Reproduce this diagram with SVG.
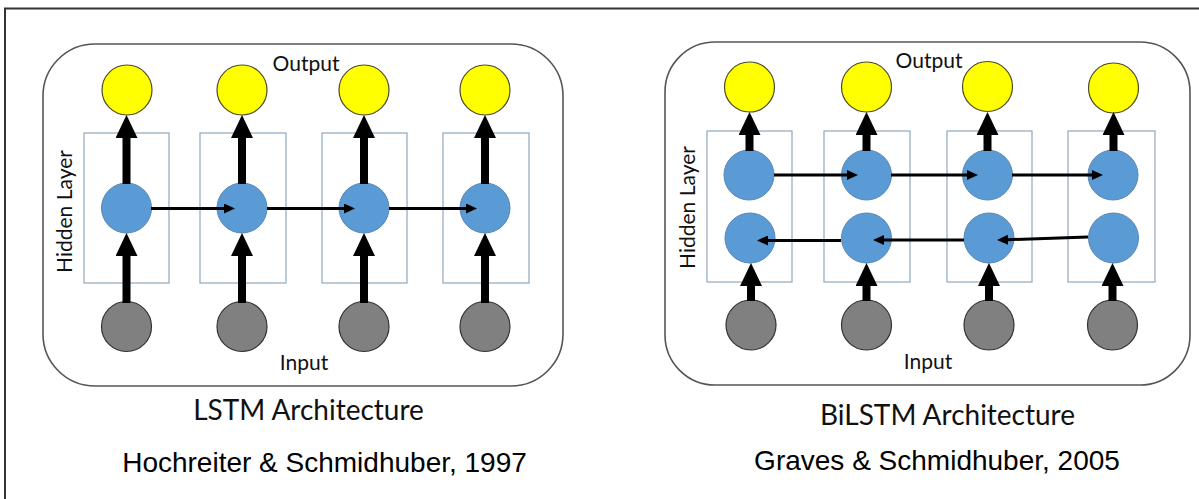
<svg xmlns="http://www.w3.org/2000/svg" width="1199" height="499" viewBox="0 0 1199 499">
  <style>
    .frame { fill: none; stroke: #333; stroke-width: 2; }
    .panel { fill: #fff; stroke: #555; stroke-width: 1.6; }
    .cell { fill: none; stroke: #8fa8bf; stroke-width: 1.2; }
    .out { fill: #ffff00; stroke: #4d4a2a; stroke-width: 1.2; }
    .hid { fill: #5b9bd5; stroke: #5a86b3; stroke-width: 1; }
    .inp { fill: #808080; stroke: #333; stroke-width: 1.2; }
    .thick { fill: none; stroke: #000; stroke-width: 8; marker-end: url(#bigHead); }
    .thin { fill: none; stroke: #000; stroke-width: 3; marker-end: url(#smallHead); }
    .lbl { font-family: Lato, "Open Sans", sans-serif; font-size: 21px; fill: #111; }
    .title { font-family: Lato, "Open Sans", sans-serif; font-size: 28px; fill: #111; }
    .cite { font-family: "Liberation Sans", Arial, sans-serif; font-size: 28px; fill: #000; }
  </style>
  <defs>
    <marker id="bigHead" markerUnits="userSpaceOnUse" viewBox="0 0 23 22" refX="0" refY="11" markerWidth="23" markerHeight="22" orient="auto">
      <path d="M0,0 L23,11 L0,22 Z" fill="#000"/>
    </marker>
    <marker id="smallHead" markerUnits="userSpaceOnUse" viewBox="0 0 11 10" refX="0" refY="5" markerWidth="11" markerHeight="10" orient="auto">
      <path d="M0,0 L11,5 L0,10 Z" fill="#000"/>
    </marker>
  </defs>

  <rect class="frame" x="5" y="8.5" width="1205" height="505"/>

  <!-- LSTM panel -->
  <g id="lstm-panel">
    <rect class="panel" x="43" y="44" width="520" height="342" rx="52" ry="52"/>
    <text class="lbl" x="306" y="71" text-anchor="middle">Output</text>
    <text class="lbl" x="304" y="370" text-anchor="middle">Input</text>
    <text class="lbl" transform="translate(71.5,211.5) rotate(-90)" text-anchor="middle">Hidden Layer</text>
  </g>
  <g id="lstm-cells">
    <rect class="cell" x="84" y="133" width="85" height="150"/>
    <rect class="cell" x="200" y="133" width="86" height="150"/>
    <rect class="cell" x="322" y="133" width="85" height="150"/>
    <rect class="cell" x="443" y="133" width="86" height="150"/>
  </g>
  <g id="lstm-out1"><circle class="out" cx="127" cy="90" r="25"/></g>
  <g id="lstm-out2"><circle class="out" cx="242" cy="90" r="25"/></g>
  <g id="lstm-out3"><circle class="out" cx="364" cy="90" r="25"/></g>
  <g id="lstm-out4"><circle class="out" cx="485" cy="90" r="25"/></g>
  <g id="lstm-h1"><circle class="hid" cx="126.5" cy="208" r="25"/></g>
  <g id="lstm-h2"><circle class="hid" cx="242" cy="208" r="25"/></g>
  <g id="lstm-h3"><circle class="hid" cx="364" cy="208" r="25"/></g>
  <g id="lstm-h4"><circle class="hid" cx="485" cy="208" r="25"/></g>
  <g id="lstm-in1"><circle class="inp" cx="126.5" cy="326.5" r="25"/></g>
  <g id="lstm-in2"><circle class="inp" cx="242" cy="326.5" r="25"/></g>
  <g id="lstm-in3"><circle class="inp" cx="364" cy="326.5" r="25"/></g>
  <g id="lstm-in4"><circle class="inp" cx="485" cy="326.5" r="25"/></g>

  <!-- BiLSTM panel -->
  <g id="bilstm-panel">
    <rect class="panel" x="665" y="42" width="525" height="343" rx="50" ry="50"/>
    <text class="lbl" x="929" y="68" text-anchor="middle">Output</text>
    <text class="lbl" x="928" y="369" text-anchor="middle">Input</text>
    <text class="lbl" transform="translate(695,207.5) rotate(-90)" text-anchor="middle">Hidden Layer</text>
  </g>
  <g id="bilstm-cells">
    <rect class="cell" x="707" y="131" width="85" height="151"/>
    <rect class="cell" x="824" y="131" width="86" height="151"/>
    <rect class="cell" x="947" y="131" width="85" height="151"/>
    <rect class="cell" x="1068" y="131" width="87" height="151"/>
  </g>
  <g id="bilstm-out1"><circle class="out" cx="749.5" cy="87" r="25"/></g>
  <g id="bilstm-out2"><circle class="out" cx="866.5" cy="87" r="25"/></g>
  <g id="bilstm-out3"><circle class="out" cx="987.5" cy="86.5" r="25"/></g>
  <g id="bilstm-out4"><circle class="out" cx="1113.5" cy="88" r="25"/></g>
  <g id="bilstm-fwd1"><circle class="hid" cx="749" cy="175" r="25"/></g>
  <g id="bilstm-fwd2"><circle class="hid" cx="866.5" cy="175" r="25"/></g>
  <g id="bilstm-fwd3"><circle class="hid" cx="987.5" cy="175" r="25"/></g>
  <g id="bilstm-fwd4"><circle class="hid" cx="1113" cy="175" r="25"/></g>
  <g id="bilstm-bwd1"><circle class="hid" cx="750" cy="238" r="25"/></g>
  <g id="bilstm-bwd2"><circle class="hid" cx="866.5" cy="238" r="25"/></g>
  <g id="bilstm-bwd3"><circle class="hid" cx="989" cy="238" r="25"/></g>
  <g id="bilstm-bwd4"><circle class="hid" cx="1113.5" cy="238" r="25"/></g>
  <g id="bilstm-in1"><circle class="inp" cx="751" cy="325" r="25"/></g>
  <g id="bilstm-in2"><circle class="inp" cx="866.5" cy="325" r="25"/></g>
  <g id="bilstm-in3"><circle class="inp" cx="989" cy="325" r="25"/></g>
  <g id="bilstm-in4"><circle class="inp" cx="1112.5" cy="325" r="25"/></g>

  <!-- connectors -->
  <g id="connectors">
    <!-- LSTM: hidden to output -->
    <path class="thick" d="M126.5,184 V138"/>
    <path class="thick" d="M242,184 V138"/>
    <path class="thick" d="M364,184 V138"/>
    <path class="thick" d="M485,184 V138"/>
    <!-- LSTM: input to hidden -->
    <path class="thick" d="M126.5,303 V256"/>
    <path class="thick" d="M242,303 V256"/>
    <path class="thick" d="M364,303 V256"/>
    <path class="thick" d="M485,303 V256"/>
    <!-- LSTM: recurrent links -->
    <path class="thin" d="M151,208.5 H224"/>
    <path class="thin" d="M267,208.5 H344"/>
    <path class="thin" d="M389,208.5 H466"/>

    <!-- BiLSTM: forward layer to output -->
    <path class="thick" d="M749.5,151 V135"/>
    <path class="thick" d="M866.5,151 V135"/>
    <path class="thick" d="M987.5,151 V135"/>
    <path class="thick" d="M1113.5,151 V135"/>
    <!-- BiLSTM: input to backward layer -->
    <path class="thick" d="M751,301 V286"/>
    <path class="thick" d="M866.5,301 V286"/>
    <path class="thick" d="M989,301 V286"/>
    <path class="thick" d="M1112.5,301 V286"/>
    <!-- BiLSTM: forward links -->
    <path class="thin" d="M774,175 H847"/>
    <path class="thin" d="M891,175 H967"/>
    <path class="thin" d="M1012,175 H1092"/>
    <!-- BiLSTM: backward links -->
    <path class="thin" d="M841,240.5 H768"/>
    <path class="thin" d="M964,240 H884"/>
    <path class="thin" d="M1088,237 L1008,239.7"/>
  </g>

  <!-- captions -->
  <g id="captions">
    <text class="title" x="308.5" y="420" text-anchor="middle">LSTM Architecture</text>
    <text class="cite" x="324.5" y="472" text-anchor="middle">Hochreiter &amp; Schmidhuber, 1997</text>
    <text class="title" x="947.5" y="425" text-anchor="middle">BiLSTM Architecture</text>
    <text class="cite" x="937" y="470" text-anchor="middle">Graves &amp; Schmidhuber, 2005</text>
  </g>
</svg>
